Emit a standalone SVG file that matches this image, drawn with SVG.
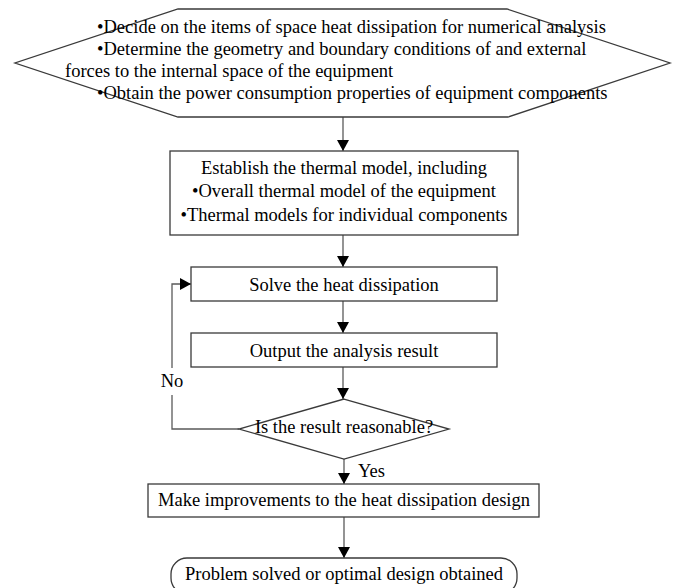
<svg xmlns="http://www.w3.org/2000/svg" width="676" height="588" viewBox="0 0 676 588">
<style>
.shape{fill:#fff;stroke:#3a3a3a;stroke-width:1.3}
.conn{fill:none;stroke:#5a5a5a;stroke-width:1.3}
text{font-family:"Liberation Serif","Times New Roman",serif;font-size:18.5px;fill:#000}
.c{text-anchor:middle}
</style>
<defs>
<marker id="arr" markerUnits="userSpaceOnUse" markerWidth="11" markerHeight="12" refX="11" refY="6" orient="auto">
<path d="M0,0 L11,6 L0,12 z" fill="#000"/>
</marker>
</defs>
<rect width="676" height="588" fill="#fff"/>
<g id="connectors">
<path class="conn" d="M343,117 V151" marker-end="url(#arr)"/>
<path class="conn" d="M343,235 V267" marker-end="url(#arr)"/>
<path class="conn" d="M343,301 V333" marker-end="url(#arr)"/>
<path class="conn" d="M343,367 V399" marker-end="url(#arr)"/>
<path class="conn" d="M344,459 V484" marker-end="url(#arr)"/>
<path class="conn" d="M344,517 V558" marker-end="url(#arr)"/>
<path class="conn" d="M239,429 H172 V395"/>
<path class="conn" d="M172,368 V284 H191" marker-end="url(#arr)"/>
<text class="c" x="172" y="387">No</text>
<text x="358" y="477">Yes</text>
</g>
<g id="start">
<polygon class="shape" points="178,9 507,9 670,63 508,117 178,117 15,63"/>
<text x="97" y="33">•Decide on the items of space heat dissipation for numerical analysis</text>
<text x="97" y="55">•Determine the geometry and boundary conditions of and external</text>
<text x="65" y="77">forces to the internal space of the equipment</text>
<text x="97" y="99">•Obtain the power consumption properties of equipment components</text>
</g>
<g id="model">
<rect class="shape" x="170" y="151" width="348" height="84"/>
<text class="c" x="344" y="174">Establish the thermal model, including</text>
<text class="c" x="344" y="197">•Overall thermal model of the equipment</text>
<text class="c" x="344" y="221">•Thermal models for individual components</text>
</g>
<g id="solve">
<rect class="shape" x="191" y="267" width="306" height="34"/>
<text class="c" x="344" y="291">Solve the heat dissipation</text>
</g>
<g id="output">
<rect class="shape" x="191" y="333" width="306" height="34"/>
<text class="c" x="344" y="357">Output the analysis result</text>
</g>
<g id="decision">
<polygon class="shape" points="344,399 449,429 344,459 239,429"/>
<text class="c" x="344" y="433">Is the result reasonable?</text>
</g>
<g id="improve">
<rect class="shape" x="148" y="484" width="391" height="33"/>
<text class="c" x="344" y="506">Make improvements to the heat dissipation design</text>
</g>
<g id="end">
<rect class="shape" x="171" y="558" width="346" height="36" rx="16" ry="16"/>
<text class="c" x="344" y="580">Problem solved or optimal design obtained</text>
</g>
</svg>
